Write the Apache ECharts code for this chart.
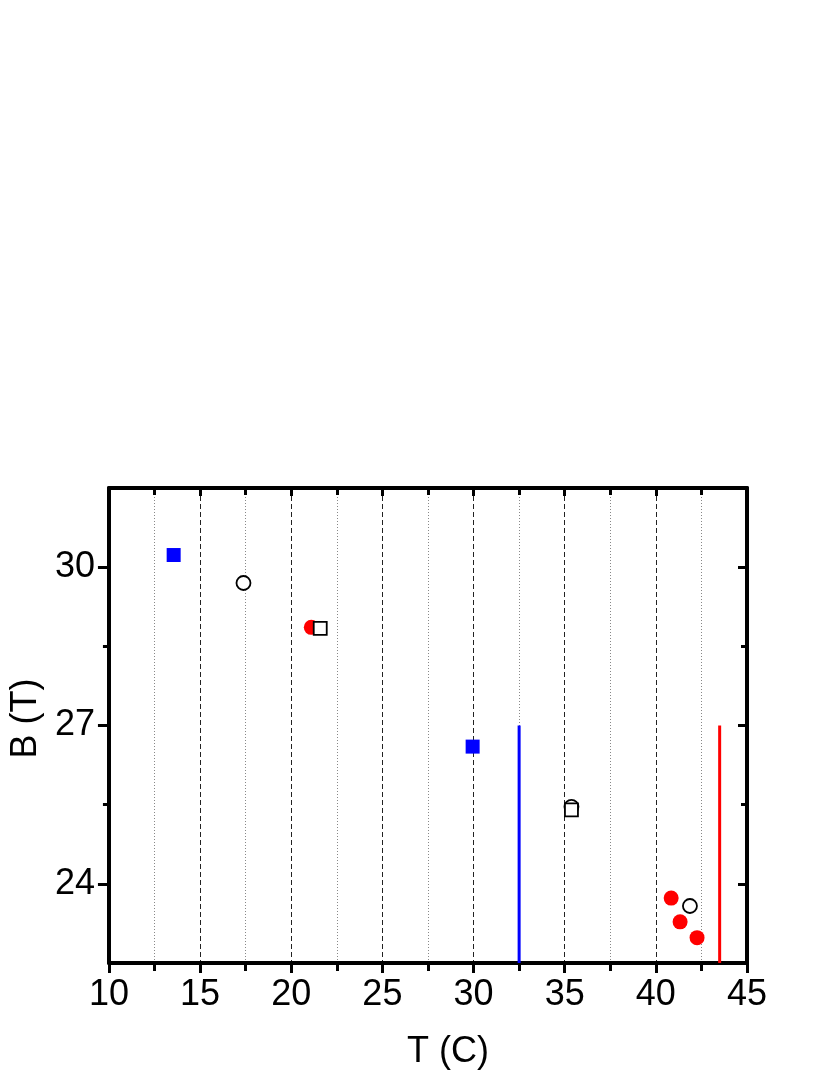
<!DOCTYPE html>
<html>
<head>
<meta charset="utf-8">
<script src="https://cdn.jsdelivr.net/npm/echarts@6/dist/echarts.min.js"></script>
<style>html,body{margin:0;padding:0;background:#fff}#c{width:830px;height:1075px}</style>
</head>
<body>
<div id="c"></div>
<script>
// Data
const blueSquares = [[13.55, 30.23], [29.95, 26.6]];
const redCircles = [[21.1, 28.86], [40.84, 23.73], [41.33, 23.28], [42.26, 22.98]];
const openCircles = [[17.38, 29.70], [35.37, 25.46], [41.87, 23.58]];
const openSquares = [[21.59, 28.84], [35.37, 25.40]];
const blueLine = [[32.5, 22.5], [32.5, 27]];
const redLine = [[43.5, 22.5], [43.5, 27]];
const xTicks = [10, 15, 20, 25, 30, 35, 40, 45];
const yMajor = [24, 27, 30];
const yMinor = [25.5, 28.5];

const FONT = "'Liberation Sans', Arial, sans-serif";
const chart = echarts.init(document.getElementById('c'), null, {renderer: 'canvas'});
const axisLine = {show: true, onZero: false, lineStyle: {color: '#000', width: 4}};
chart.setOption({
  animation: false,
  backgroundColor: '#fff',
  grid: {left: 107, right: 83, top: 488, bottom: 112, containLabel: false},
  xAxis: [
    {
      type: 'value', position: 'bottom', min: 10, max: 45, interval: 5,
      axisLine: axisLine,
      axisTick: {show: true, inside: false, length: 10, lineStyle: {color: '#000', width: 3}},
      minorTick: {show: true, splitNumber: 2, length: 8, lineStyle: {color: '#000', width: 3}},
      axisLabel: {show: true, margin: 14, color: '#000', fontSize: 36, fontFamily: FONT,
        formatter: v => xTicks.includes(v) ? String(v) : ''},
      splitLine: {show: true, lineStyle: {color: '#222', width: 1, type: [5, 3]}},
      minorSplitLine: {show: true, lineStyle: {color: '#888', width: 1, type: [1, 2]}},
      name: 'T (C)', nameLocation: 'middle', nameGap: 71,
      nameTextStyle: {color: '#000', fontSize: 36, fontFamily: FONT, padding: [0, 0, 0, 40]}
    },
    {
      type: 'value', position: 'top', min: 10, max: 45, interval: 5,
      axisLine: axisLine,
      axisTick: {show: true, inside: true, length: 8, lineStyle: {color: '#000', width: 3}},
      minorTick: {show: true, splitNumber: 2, length: 7, lineStyle: {color: '#000', width: 3}},
      axisLabel: {show: false}, splitLine: {show: false}
    }
  ],
  yAxis: [
    {
      type: 'value', position: 'left', min: 22.5, max: 31.5, interval: 1.5,
      axisLine: axisLine,
      axisTick: {show: true, inside: false, length: 11, customValues: yMajor, lineStyle: {color: '#000', width: 3}},
      axisLabel: {show: true, margin: 14, color: '#000', fontSize: 36, fontFamily: FONT, customValues: yMajor},
      splitLine: {show: false},
      name: 'B (T)', nameLocation: 'middle', nameGap: 64, nameRotate: 90,
      nameTextStyle: {color: '#000', fontSize: 36, fontFamily: FONT, padding: [0, 0, 0, 14]}
    },
    {
      type: 'value', position: 'right', min: 22.5, max: 31.5, interval: 1.5,
      axisLine: axisLine,
      axisTick: {show: true, inside: true, length: 9, customValues: yMajor, lineStyle: {color: '#000', width: 3}},
      axisLabel: {show: false}, splitLine: {show: false}
    },
    {
      type: 'value', position: 'left', min: 22.5, max: 31.5, interval: 1.5,
      axisLine: {show: false},
      axisTick: {show: true, inside: false, length: 6, customValues: yMinor, lineStyle: {color: '#000', width: 3}},
      axisLabel: {show: false}, splitLine: {show: false}
    },
    {
      type: 'value', position: 'right', min: 22.5, max: 31.5, interval: 1.5,
      axisLine: {show: false},
      axisTick: {show: true, inside: true, length: 6, customValues: yMinor, lineStyle: {color: '#000', width: 3}},
      axisLabel: {show: false}, splitLine: {show: false}
    }
  ],
  series: [
    {type: 'line', data: blueLine, symbol: 'none', lineStyle: {color: '#0000ff', width: 3}, z: 3},
    {type: 'line', data: redLine, symbol: 'none', lineStyle: {color: '#ff0000', width: 3}, z: 3},
    {type: 'scatter', data: blueSquares, symbol: 'rect', symbolSize: 14,
      itemStyle: {color: '#0000ff', opacity: 1}, z: 4},
    {type: 'scatter', data: redCircles, symbol: 'circle', symbolSize: 15,
      itemStyle: {color: '#ff0000', opacity: 1}, z: 4},
    {type: 'scatter', data: openCircles, symbol: 'circle', symbolSize: 14,
      itemStyle: {color: '#fff', borderColor: '#000', borderWidth: 1.8, opacity: 1}, z: 5},
    {type: 'scatter', data: openSquares, symbol: 'rect', symbolSize: 13,
      itemStyle: {color: '#fff', borderColor: '#000', borderWidth: 1.8, opacity: 1}, z: 6}
  ]
});
</script>
</body>
</html>
